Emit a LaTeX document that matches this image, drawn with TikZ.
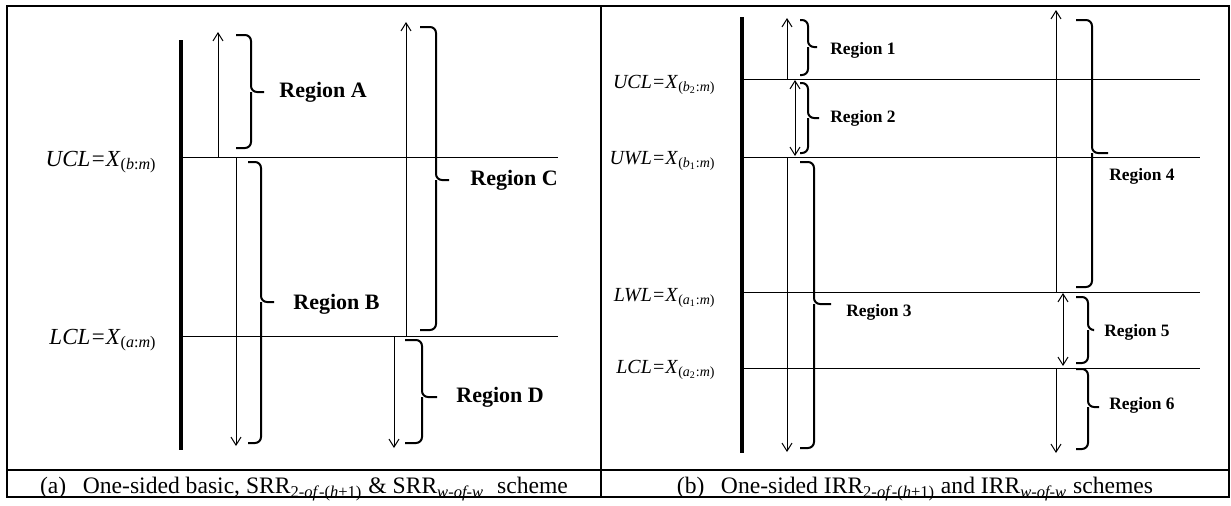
\documentclass[tikz,border=0pt]{standalone}
\usepackage{fontspec}
\setmainfont{Liberation Serif}
\usetikzlibrary{arrows.meta,positioning}
% bracket with rounded corners: x0, x1, ytop, ybot, ytip, xtip
\newcommand{\RegBrace}[6]{%
  \draw[brace line] (#1,#3) -| (#2,#5) -- (#6,#5) (#2,#5) |- (#1,#4);}

\begin{document}
\begin{tikzpicture}[x=0.5pt,y=-0.5pt,
  >={Straight Barb[length=4pt,width=5pt]},
  frame/.style={line width=1pt},
  axis/.style={line width=1.7pt},
  level/.style={line width=0.5pt},
  span arrow/.style={line width=0.5pt},
  brace line/.style={line width=1pt,rounded corners=3pt},
  regA/.style={font=\fontsize{11}{13}\selectfont\bfseries,anchor=west,inner sep=0pt},
  regB/.style={font=\fontsize{8.7}{10}\selectfont\bfseries,anchor=west,inner sep=0pt},
  limA/.style={font=\fontsize{11.5}{13}\selectfont,anchor=east,inner sep=0pt},
  limB/.style={font=\fontsize{10}{12}\selectfont,anchor=east,inner sep=0pt},
  capt/.style={font=\fontsize{11.8}{13}\selectfont,inner sep=0pt}]
\useasboundingbox (0,0) rectangle (1231,505);
% frame
\draw[frame] (7,6) rectangle (1229,497);
\draw[frame] (601,6) -- (601,497);
\draw[frame] (7,470) -- (1229,470);

% panel (a)
\draw[axis] (181,40) -- (181,450);
\draw[level] (181,157) coordinate (ucla) -- (558,157);
\draw[level] (181,336) coordinate (lcla) -- (558,336);
\node[limA] (ucl) at (157,162) {\textit{UCL=X}\textsubscript{(\textit{b}:\textit{m})}};
\node[limA] (lcl) at (157,340) {\textit{LCL=X}\textsubscript{(\textit{a}:\textit{m})}};
\draw[span arrow,->] (218,157) -- (218,32);
\draw[span arrow,->] (236,157) -- (236,446);
\draw[span arrow,->] (406,336) -- (406,22);
\draw[span arrow,->] (394,336) -- (394,448);
\RegBrace{236}{251}{35}{148}{92}{264}
\RegBrace{248}{261}{162}{443}{302}{274}
\RegBrace{420}{436}{27}{330}{180}{449}
\RegBrace{405}{422}{340}{443}{397}{437}
\node[regA] (rA) at (279,92) {Region A};
\node[regA] (rB) at (293,304) {Region B};
\node[regA] (rC) at (470,180) {Region C};
\node[regA] (rD) at (456,397) {Region D};
\node[capt] (capa) at (304,489) {(a)\hspace{0.7em}One-sided basic, SRR\textsubscript{2-\textit{of}-(\textit{h}+1)} \& SRR\textsubscript{\textit{w-of-w}}\hspace{0.3em} scheme};

% panel (b)
\draw[axis] (742,17) -- (742,453);
\foreach \y in {79,157,292,368}
  \draw[level] (742,\y) -- (1200,\y);
\node[limB] (uclb) at (716,85) {\textit{UCL=X}\textsubscript{(\textit{b}\textsubscript{2}:\textit{m})}};
\node[limB] (uwlb) at (716,161) {\textit{UWL=X}\textsubscript{(\textit{b}\textsubscript{1}:\textit{m})}};
\node[limB] (lwlb) at (716,298) {\textit{LWL=X}\textsubscript{(\textit{a}\textsubscript{1}:\textit{m})}};
\node[limB] (lclb) at (716,370) {\textit{LCL=X}\textsubscript{(\textit{a}\textsubscript{2}:\textit{m})}};
\draw[span arrow,->] (787,79) -- (787,18);
\draw[span arrow,<->] (795,80) -- (795,156);
\draw[span arrow,->] (787,157) -- (787,452);
\draw[span arrow,->] (1056,292) -- (1056,10);
\draw[span arrow,<->] (1063,293) -- (1063,366);
\draw[span arrow,->] (1056,368) -- (1056,453);
\RegBrace{800}{808}{20}{75}{47}{817}
\RegBrace{800}{808}{83}{153}{118}{819}
\RegBrace{800}{814}{162}{448}{304}{831}
\RegBrace{1076}{1092}{20}{287}{153}{1108}
\RegBrace{1076}{1088}{297}{363}{330}{1093}
\RegBrace{1076}{1088}{369}{449}{407}{1099}
\node[regB] (r1) at (830,50) {Region 1};
\node[regB] (r2) at (830,118) {Region 2};
\node[regB] (r3) at (846,312) {Region 3};
\node[regB] (r4) at (1109,176) {Region 4};
\node[regB] (r5) at (1104,332) {Region 5};
\node[regB] (r6) at (1109,405) {Region 6};
\node[capt] (capb) at (915,489) {(b)\hspace{0.7em}One-sided IRR\textsubscript{2-\textit{of}-(\textit{h}+1)} and IRR\textsubscript{\textit{w-of-w}} schemes};
\end{tikzpicture}
\end{document}
